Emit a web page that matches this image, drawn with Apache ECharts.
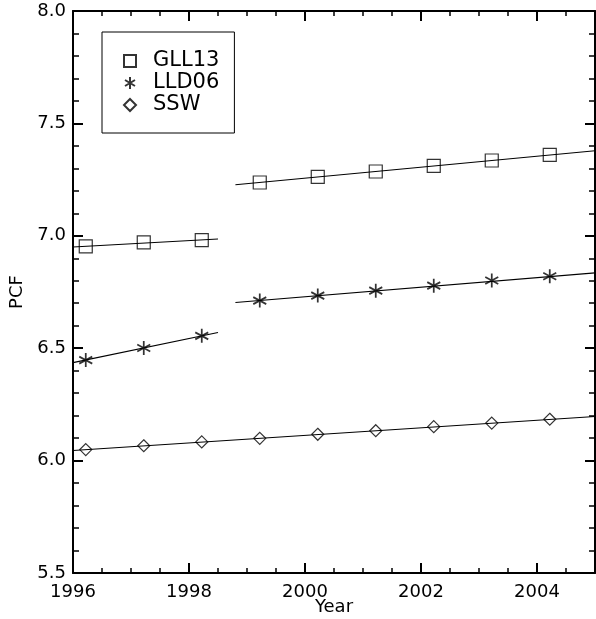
<!DOCTYPE html>
<html>
<head>
<meta charset="utf-8">
<script src="https://cdn.jsdelivr.net/npm/echarts@6/dist/echarts.min.js"></script>
<style>
  html, body { margin: 0; padding: 0; background: #fff; }
  #chart { width: 596px; height: 619px; }
</style>
</head>
<body>
<div id="chart"></div>
<script>
// observation years (same for every series)
const years = [1996.22, 1997.22, 1998.22, 1999.22, 2000.22, 2001.22, 2002.22, 2003.22, 2004.22];

// PCF values
const gll13 = [6.953, 6.971, 6.981, 7.237, 7.262, 7.286, 7.311, 7.335, 7.360];
const lld06 = [6.447, 6.501, 6.555, 6.712, 6.734, 6.756, 6.778, 6.801, 6.820];
const ssw = [6.049, 6.066, 6.083, 6.099, 6.117, 6.133, 6.151, 6.167, 6.184];

// fitted lines: [year, PCF] end points
const gll13FitA = [[1996, 6.950], [1998.5, 6.986]];
const gll13FitB = [[1998.8, 7.227], [2005, 7.378]];
const lld06FitA = [[1996, 6.436], [1998.5, 6.570]];
const lld06FitB = [[1998.8, 6.703], [2005, 6.835]];
const sswFit = [[1996, 6.045], [2005, 6.196]];

const xRange = [1996, 2005];
const yRange = [5.5, 8.0];

const FONT = "DejaVu Sans";
const starPath = "path://M5 0 L5 12 M0 3 L10 9 M0 9 L10 3";

function pairs(ys) {
  return years.map((x, i) => [x, ys[i]]);
}

const chart = echarts.init(document.getElementById("chart"));

// x axes: major ticks with labels, plus a second overlaid axis only for the 0.5 yr minor ticks
function xAxisDef(position, major, labels) {
  return {
    type: "value",
    position: position,
    min: xRange[0],
    max: xRange[1],
    interval: major ? 2 : 0.5,
    axisLine: { show: major, onZero: false, lineStyle: { color: "#000", width: 2 } },
    axisTick: { show: true, inside: true, length: major ? 10 : 5, lineStyle: { color: "#000", width: major ? 2 : 1.5 } },
    axisLabel: {
      show: labels,
      showMaxLabel: false,
      margin: 10,
      color: "#000",
      fontFamily: FONT,
      fontSize: 18,
      formatter: (v) => String(v),
    },
    splitLine: { show: false },
    name: labels ? "Year" : "",
    nameLocation: "middle",
    nameGap: 25,
    nameMoveOverlap: false,
    nameTextStyle: { color: "#000", fontFamily: FONT, fontSize: 18 },
  };
}

function yAxisDef(position, labels) {
  return {
    type: "value",
    position: position,
    min: yRange[0],
    max: yRange[1],
    interval: 0.5,
    axisLine: { show: true, onZero: false, lineStyle: { color: "#000", width: 2 } },
    axisTick: { show: true, inside: true, length: 10, lineStyle: { color: "#000", width: 2 } },
    minorTick: { show: true, splitNumber: 5, length: 6, lineStyle: { color: "#000", width: 1.5 } },
    axisLabel: {
      show: labels,
      margin: 7,
      color: "#000",
      fontFamily: FONT,
      fontSize: 18,
      formatter: (v) => v.toFixed(1),
    },
    splitLine: { show: false },
    name: labels ? "PCF" : "",
    nameLocation: "middle",
    nameRotate: 90,
    nameGap: 47,
    nameTextStyle: { color: "#000", fontFamily: FONT, fontSize: 18 },
  };
}

const pointStyle = { color: "transparent", borderColor: "#000", borderWidth: 1.2 };
const fitStyle = { color: "#000", width: 1.1 };

function fitLine(name, data) {
  return {
    name: name,
    type: "line",
    data: data,
    symbol: "none",
    silent: true,
    lineStyle: fitStyle,
    itemStyle: { color: "#000" },
  };
}

const option = {
  animation: false,
  backgroundColor: "#fff",
  grid: { left: 73, right: 1, top: 11, bottom: 46, containLabel: false, outerBoundsMode: "none" },
  xAxis: [
    xAxisDef("bottom", true, true),
    xAxisDef("bottom", false, false),
    xAxisDef("top", true, false),
    xAxisDef("top", false, false),
  ],
  yAxis: [yAxisDef("left", true), yAxisDef("right", false)],
  legend: {
    data: ["GLL13", "LLD06", "SSW"],
    orient: "vertical",
    left: 102,
    top: 32,
    padding: [18, 15, 17, 21],
    itemGap: 0,
    itemWidth: 12,
    itemHeight: 12,
    borderColor: "#000",
    borderWidth: 1,
    selectedMode: false,
    textStyle: {
      color: "#000",
      fontFamily: FONT,
      fontSize: 21,
      lineHeight: 22,
      padding: [0, 0, 0, 12],
    },
  },
  series: [
    fitLine("GLL13 fit A", gll13FitA),
    fitLine("GLL13 fit B", gll13FitB),
    fitLine("LLD06 fit A", lld06FitA),
    fitLine("LLD06 fit B", lld06FitB),
    fitLine("SSW fit", sswFit),
    {
      name: "GLL13",
      type: "scatter",
      data: pairs(gll13),
      symbol: "rect",
      symbolSize: 13,
      itemStyle: pointStyle,
    },
    {
      name: "LLD06",
      type: "scatter",
      data: pairs(lld06),
      symbol: starPath,
      symbolSize: [13, 14],
      itemStyle: { color: "transparent", borderColor: "#000", borderWidth: 1.8 },
    },
    {
      name: "SSW",
      type: "scatter",
      data: pairs(ssw),
      symbol: "diamond",
      symbolSize: 12,
      itemStyle: pointStyle,
    },
  ],
};

chart.setOption(option);
</script>
</body>
</html>
